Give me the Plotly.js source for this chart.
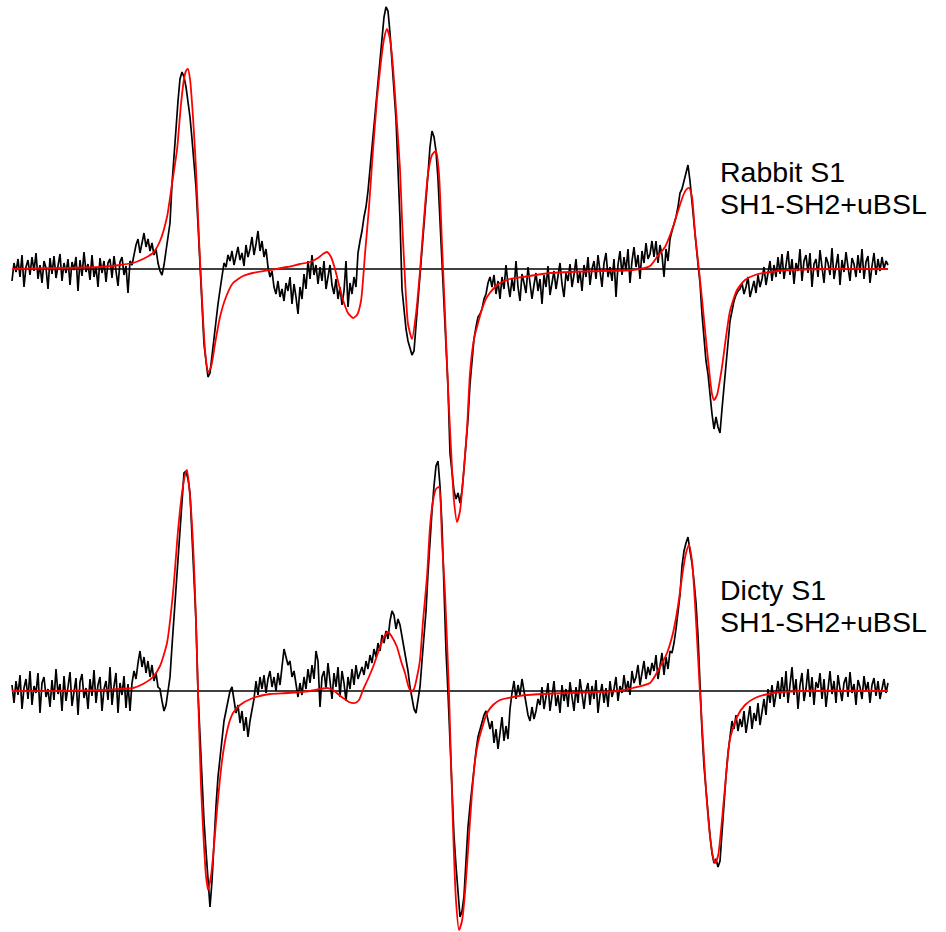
<!DOCTYPE html>
<html>
<head>
<meta charset="utf-8">
<script src="https://cdn.plot.ly/plotly-3.0.1.min.js"></script>
<style>html,body{margin:0;padding:0;background:#fff;}#chart{width:946px;height:932px;}</style>
</head>
<body>
<div id="chart"></div>
<script>
// Field sweep (uniform), shared by both measured spectra
const fieldStart = 12, fieldStep = 2;

// Rabbit S1 SH1-SH2+uBSL : measured spectrum (black)
const rabbitData = [
-12, 6, -3, 10, -8, 14, -18, 2, 9, -6, 12, -2, 16, -10, 4, -14, 8, 1, -20, 11,
-5, 13, -9, 3, 15, -12, 6, -4, 10, -16, 7, -1, 12, -22, 9, -7, 17, -3, 5, -11,
14, -8, 2, -18, 11, -4, 8, -13, 6, 10, -9, 13, -2, -17, 7, 12, -6, 3, -24, 8,
4, 15, 24, 30, 16, 26, 36, 22, 30, 18, 26, 14, 20, 6, -2, -6, 4, 18,
32, 46, 85, 118, 140, 168, 190, 197, 192, 182, 168, 152, 130, 108, 82, 45, 5, -35, -75, -92,
-108, -104, -85, -68, -52, -35, -21, -5, 6, 2, 14,
8, 18, 4, 14, 22, 9, 16, 3, 24, 12, 20, 32, 14, 25, 38, 18, 28, 12, 20, 2,
-8, -2, -18, -25, -12, -28, -20, -32, -14, -22, -8, -35, -15, -28, -45, -18, -30, -5, -20, 8,
-10, 14, -6, 4, -15, 2, -12, 8, -20, -8, 4, -16, -25, -10, -30, -18, -36, -22, 8, -38,
-14, -25, -8, -18, 16, 28,
38, 52, 62, 78, 100, 125, 150, 168, 188, 215, 235, 252, 262, 258, 236, 210, 180, 150, 100, 50,
-20, -42, -60, -72, -80, -86, -82, -58, -30, -5, 20, 45, 66, 95, 122, 138, 132, 118, 90, 50,
16, -25, -75, -118, -184, -205, -222, -230, -224, -234, -222, -200, -175, -150, -115, -88, -70, -58, -48, -45,
-40, -30, -25, -14, -8,
-18, -6, -25, -12, -30, -8, -20, 4, -15, -28, -10, -22, 8, -18, -32, -5, -14, -24, 2, -12,
-30, -16, -4, -22, -10, -35, -6, -18, 3, -26, -12, -2, -20, -8, 6, -15, -28, -4, -12, 5,
-18, -6, 10, -14, -2, -22, 4, -8, 12, -16, 0, 8, -10, 14, -4, -18, 6, 16, -8, 2,
-12, 10, -28, 4, 18, -6, 12, -2, 20, -14, 8, 22, 2, 14, -10, 18, 6, 26, 10, 15, 28,
12, 28, 6, 24, 14, -8, 20, 8, 30, 38, 44, 52, 62, 76,
80, 88, 96, 104, 88, 65, 45, 25, 5, -14, -45, -70, -92, -105, -128, -145, -160, -148, -158, -164,
-140, -118, -92, -68, -52, -42, -32, -26, -22, -20,
-14, -25, -18, -8, -28, -20, -12, -24, -6, -18, -10, 2, -16, -4, 8, -12, 4, -8, 12, -5,
15, -10, 3, 18, -6, 10, -15, 6, -2, 20, -12, 8, 14, -4, 16, -18, 5, 10, -8, 19,
2, -14, 12, 6, -6, 21, -10, 4, 15, -16, 9, -3, 17, 2, -12, 11, 5, -8, 14, -4,
20, -10, 7, 13, -14, 3, 16, -6, 10, -2, 12, 0, 8, 4
];

// Rabbit S1 : simulated fit (red)
const rabbitFitX = [12, 60, 100, 120, 133, 143, 153, 160, 167, 172, 177, 181, 184, 186, 188, 190, 193, 196, 199, 202,
205, 208, 211, 215, 220, 226, 233, 243, 253, 270, 287, 300, 310, 318, 323, 327, 331, 335, 339, 343,
348, 353, 357, 361, 365, 369, 373, 377, 381, 384, 387, 390, 393, 396, 400, 402, 405, 408, 412, 416,
420, 424, 428, 432, 436, 439, 442, 445, 448, 451, 454, 457, 460, 463, 467, 470, 474, 477, 482, 487,
495, 500, 510, 523, 550, 600, 633, 650, 657, 665, 673, 678, 683, 686, 689, 692, 695, 699, 702, 705,
709, 712, 714, 717, 722, 726, 730, 737, 745, 755, 770, 790, 830, 888];
const rabbitFitY = [0, 1, 2, 4, 6, 10, 16, 28, 52, 85, 119, 165, 190, 198, 200, 190, 152, 100, 30, -30,
-81, -103, -98, -75, -48, -28, -14, -7, -4, -1, 2, 5, 7, 11, 15, 17, 12, 0, -16, -31,
-44, -49, -46, -32, 15, 62, 119, 170, 208, 230, 240, 230, 202, 160, 100, 50, -10, -55, -70, -45,
-2, 50, 95, 114, 118, 95, 25, -45, -118, -180, -232, -253, -242, -211, -160, -104, -70, -58, -40, -28,
-18, -14, -10, -8, -4, -2, -1, 3, 12, 22, 42, 58, 73, 79, 81, 72, 36, -1, -30, -61,
-100, -125, -131, -126, -98, -68, -42, -21, -11, -6, -3, -1, 0, 0];

// Dicty S1 SH1-SH2+uBSL : measured spectrum (black)
const dictyData = [
6, -12, 10, -4, 16, -18, 3, 12, -8, 20, -14, 5, -2, 18, -22, 8, 14, -6, 2, -16,
11, -9, 22, -3, 7, -20, 15, -10, 4, 19, -15, 1, 13, -24, 9, 17, -7, 3, -18, 12,
-5, 21, -12, 6, 14, -20, 2, 10, -9, 24, -14, 5, 18, -22, 8, -4, 15, -17, 7, -20,
8, 20, 12, 28, 40, 24, 34, 18, 30, 14, 26, 10, 18, 4, 2, -10, -20, -14,
0, 14, 45, 75, 100, 130, 165, 198, 218, 220, 212, 198, 160, 120, 70, -2, -50, -95, -130, -160,
-185, -216, -190, -150, -115, -86, -65, -45, -30, -20, -9,
0, 4, -10, -22, -14, -32, -20, -40, -26, -46, -30, -18, -8, 10, -4, 14, 2, 16, -2, 12,
20, 4, 14, 0, 18, 6, 22, 42, 34, 26, 30, 14, 20, 6, -6, 8, -4, 14, 2, 22,
8, 26, 12, 40, 30, -16, 14, 20, 2, 28, 10, -8, 18, 4, 24, -6, 20, 8, -10, 14,
2, 22, 6, 26, 12, 18,
24, 16, 30, 22, 36, 28, 42, 34, 48, 40, 56, 48, 60, 52, 70, 80, 76, 62, 72, 66,
54, 44, 34, 20, 4, -8, -18, -22, -10, 4, 30, 52, 80, 118, 154, 180, 205, 225, 230, 205,
165, 100, 40, -2, -50, -102, -145, -175, -205, -226, -220, -205, -170, -136, -115, -95, -80, -60, -46, -38,
-30, -24, -20, -30, -38,
-30, -52, -38, -58, -42, -26, -50, -35, -48, -18, -2, 10, -8, 6, -4, 12, 0, -12, -24, -30,
-16, -28, -20, -8, -14, 4, -18, -6, 8, -20, -2, 10, -15, -4, -22, 6, -10, 2, -16, 9,
-6, -20, 4, -12, 12, -2, -18, 0, 8, -14, 5, -8, 11, -22, -4, 7, -12, 3, -16, 10,
-6, 2, 14, -10, 5, -2, 16, 0, 10, -4, 20, 8, 14, 26, 6, 18, 30, 12, 24, 16, 28,
20, 36, 12, 28, 38, 16, 34, 22, 40, 38, 48, 62, 80, 96,
125, 140, 148, 154, 140, 128, 110, 88, 55, 4, -40, -75, -100, -122, -145, -162, -172, -168, -176, -170,
-140, -115, -85, -62, -45, -30, -38, -24, -40, -28,
-36, -20, -42, -26, -15, -38, -22, -30, -12, -34, -18, -8, -24, 2, -12, 6, -16, -2, 10, -8,
14, -6, 20, -12, 8, 24, -4, 12, -18, 6, 18, -10, 2, 22, -6, 14, -14, 9, 3, 18,
-8, 12, -16, 5, 20, -3, 10, -12, 16, 2, -10, 8, 14, -6, 19, -2, 7, -14, 11, 4,
-8, 15, 0, 9, -12, 6, 13, -5, 10, -8, 4, 12, -2, 8
];

// Dicty S1 : simulated fit (red)
const dictyFitX = [12, 60, 100, 120, 133, 143, 153, 160, 167, 173, 178, 182, 185, 187, 190, 193, 195, 198, 201, 204,
206, 208, 211, 214, 217, 222, 226, 230, 233, 240, 253, 270, 287, 310, 327, 333, 338, 343, 349, 355,
359, 363, 368, 373, 380, 384, 388, 392, 397, 401, 405, 408, 411, 414, 417, 420, 423, 427, 430, 433,
436, 439, 442, 445, 449, 453, 456, 459, 462, 465, 468, 472, 475, 478, 483, 487, 493, 500, 513, 527,
567, 617, 633, 650, 660, 667, 673, 678, 683, 686, 689, 692, 695, 698, 700, 703, 706, 710, 713, 715,
718, 722, 726, 730, 737, 745, 755, 773, 800, 888];
const dictyFitY = [0, 0, 1, 2, 3, 7, 14, 25, 48, 98, 160, 198, 216, 221, 195, 148, 100, 1, -95, -155,
-185, -199, -185, -155, -119, -70, -45, -29, -22, -14, -7, -3, -2, 0, 3, 1, -3, -7, -11, -12,
-9, 1, 12, 24, 44, 54, 59, 54, 44, 30, 18, 6, -1, 2, 14, 31, 70, 114, 164, 190,
202, 204, 150, 98, -2, -136, -210, -239, -230, -202, -160, -102, -70, -52, -34, -22, -14, -9, -6, -4,
-2, 0, 3, 8, 24, 38, 58, 85, 121, 138, 146, 130, 88, 35, -2, -50, -99, -145, -166, -172,
-165, -129, -85, -48, -26, -14, -7, -2, 0, 0];

const labels = [["Rabbit S1", "SH1-SH2+uBSL"], ["Dicty S1", "SH1-SH2+uBSL"]];

function sweep(n) { const a = []; for (let i = 0; i < n; i++) a.push(fieldStart + fieldStep * i); return a; }
const xRabbit = sweep(rabbitData.length);
const xDicty = sweep(dictyData.length);
const xMin = fieldStart, xMax = fieldStart + fieldStep * (rabbitData.length - 1);

const blackLine = {color: '#000000', width: 1.7};
const redLine = {color: '#ff0000', width: 1.8, shape: 'spline', smoothing: 0.6};

const traces = [
  {x: xRabbit, y: rabbitData, yaxis: 'y', mode: 'lines', line: blackLine, hoverinfo: 'skip'},
  {x: rabbitFitX, y: rabbitFitY, yaxis: 'y', mode: 'lines', line: redLine, hoverinfo: 'skip'},
  {x: xDicty, y: dictyData, yaxis: 'y2', mode: 'lines', line: blackLine, hoverinfo: 'skip'},
  {x: dictyFitX, y: dictyFitY, yaxis: 'y2', mode: 'lines', line: redLine, hoverinfo: 'skip'}
];

const font = {family: 'Liberation Sans, Arial, sans-serif', size: 28.5, color: '#000'};
const layout = {
  width: 946, height: 932,
  margin: {l: 0, r: 0, t: 0, b: 0},
  paper_bgcolor: '#ffffff', plot_bgcolor: '#ffffff',
  showlegend: false,
  xaxis: {range: [0, 946], visible: false, fixedrange: true},
  yaxis: {range: [-663, 269], visible: false, fixedrange: true},
  yaxis2: {range: [-241, 691], visible: false, overlaying: 'y', fixedrange: true},
  shapes: [
    {type: 'line', xref: 'x', yref: 'y', x0: xMin, x1: xMax, y0: 0, y1: 0, line: {color: '#000', width: 1.5}, layer: 'below'},
    {type: 'line', xref: 'x', yref: 'y2', x0: xMin, x1: xMax, y0: 0, y1: 0, line: {color: '#000', width: 1.5}, layer: 'below'}
  ],
  annotations: [
    {xref: 'x', yref: 'y', x: 718, y: 97, text: labels[0][0], showarrow: false, xanchor: 'left', yanchor: 'middle', font: font},
    {xref: 'x', yref: 'y', x: 718, y: 65, text: labels[0][1], showarrow: false, xanchor: 'left', yanchor: 'middle', font: font},
    {xref: 'x', yref: 'y2', x: 718, y: 101, text: labels[1][0], showarrow: false, xanchor: 'left', yanchor: 'middle', font: font},
    {xref: 'x', yref: 'y2', x: 718, y: 69, text: labels[1][1], showarrow: false, xanchor: 'left', yanchor: 'middle', font: font}
  ]
};

Plotly.newPlot('chart', traces, layout, {staticPlot: true, displayModeBar: false});
</script>
</body>
</html>
